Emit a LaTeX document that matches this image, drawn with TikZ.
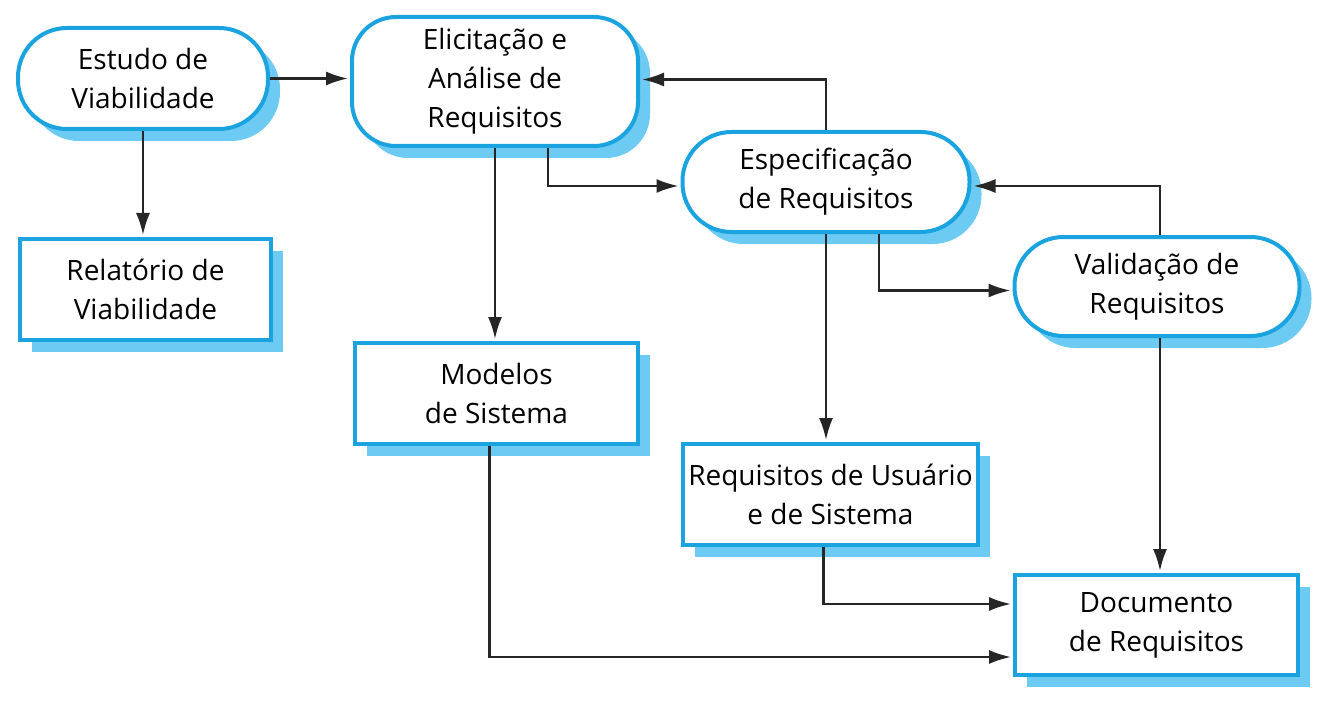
\documentclass[tikz,border=0pt]{standalone}
\usepackage{fontspec}
\setmainfont{Open Sans}
\usetikzlibrary{arrows.meta,shadows}
\definecolor{borda}{HTML}{1BA3E0}
\definecolor{sombra}{HTML}{6DCBF3}
\tikzset{
  caixa/.style={draw=borda, line width=2pt, fill=white, align=center,
    font=\fontsize{14}{19.5}\selectfont, inner sep=0pt,
    drop shadow={opacity=1, fill=sombra, shadow xshift=6pt, shadow yshift=-6pt}},
  etapa/.style={caixa, rounded corners=24.5pt},
  produto/.style={caixa},
  seta/.style={-{Latex[length=11pt,width=7pt]}, line width=1.1pt, draw=black!85, shorten >=1pt},
}
\begin{document}
\begin{tikzpicture}[x=0.5pt, y=-0.5pt]
    \useasboundingbox (0,0) rectangle (1329,706);

    % etapas do processo
    \node[etapa, minimum width=125pt, minimum height=50.5pt] (estudo) at (143,78.5) {Estudo de\\Viabilidade};
    \node[etapa, rounded corners=22pt, minimum width=143pt, minimum height=64.5pt] (elicit) at (495,81.5) {Elicitação e\\Análise de\\Requisitos};
    \node[etapa, minimum width=143.5pt, minimum height=50pt] (espec) at (826,182) {Especificação\\de Requisitos};
    \node[etapa, minimum width=142.5pt, minimum height=49.5pt] (valid) at (1157,286.5) {Validação de\\Requisitos};

    % produtos
    \node[produto, minimum width=125.5pt, minimum height=50.5pt] (relat) at (145.5,289.5) {Relatório de\\Viabilidade};
    \node[produto, minimum width=141.5pt, minimum height=50.5pt] (modelos) at (496.5,393.5) {Modelos\\de Sistema};
    \node[produto, minimum width=147.5pt, minimum height=50.5pt] (requsu) at (830.5,494.5) {Requisitos de Usuário\\e de Sistema};
    \node[produto, minimum width=141.5pt, minimum height=50pt] (doc) at (1156.5,625) {Documento\\de Requisitos};

    \draw[seta] (estudo.east) -- (estudo.east -| elicit.west);
    \draw[seta] (estudo.south) -- (estudo.south |- relat.north);
    \draw[seta] (elicit.south) -- (elicit.south |- modelos.north);
    \draw[seta] ([xshift=26.5pt]elicit.south) |- ([yshift=-2pt]espec.west);
    \draw[seta] (espec.north) |- ([yshift=1pt]elicit.east);
    \draw[seta] (espec.south) -- (espec.south |- requsu.north);
    \draw[seta] ([xshift=26.5pt]espec.south) |- ([yshift=-2pt]valid.west);
    \draw[seta] ([xshift=1.5pt]valid.north) |- ([yshift=-2pt]espec.east);
    \draw[seta] ([xshift=1.5pt]valid.south) -- ([xshift=1.5pt]valid.south |- doc.north);
    \draw[seta] ([xshift=-3.5pt]requsu.south) |- ([yshift=10.5pt]doc.west);
    \draw[seta] ([xshift=-3.5pt]modelos.south) |- ([yshift=-16pt]doc.west);
\end{tikzpicture}
\end{document}
